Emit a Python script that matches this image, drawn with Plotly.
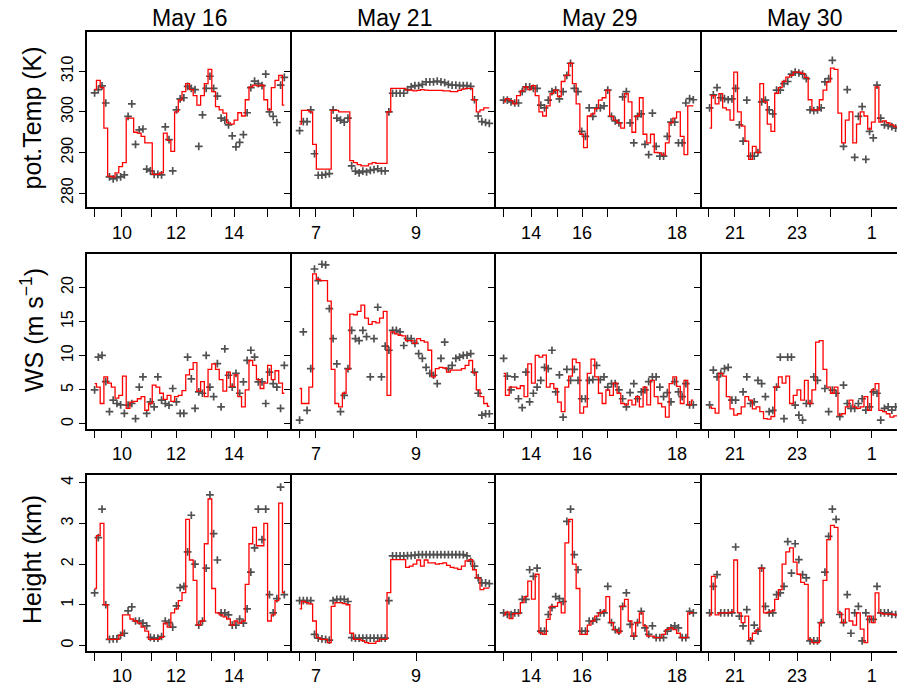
import plotly.graph_objects as go
from plotly.subplots import make_subplots

# ---------------- data ----------------
days = ["May 16", "May 21", "May 29", "May 30"]
variables = ["pot.Temp (K)", "WS (m s<sup>\u22121</sup>)", "Height (km)"]

# potential temperature (K): model (line) and observations (points)
temp_line_16 = [305.5, 307.8, 306, 296, 284.2, 284, 285, 286.5, 287.5, 298.5, 298.5, 295, 294.8, 294, 292.4, 292.4, 284.6, 284.6, 285, 294.8, 293, 290.3, 300, 302.9, 305, 307, 305.5, 304, 301.7, 304, 307, 310.5, 305, 301.3, 300.5, 299.7, 297.3, 297, 298, 299.8, 299, 303, 306.2, 306.6, 306.4, 306.6, 303, 300.5, 306, 307.8, 309, 301.7]
temp_obs_16 = [304.7, 305.5, 306.4, 302.2, 284.0, 283.5, 283.8, 284, 284.5, 298.9, 302, 292, 295.6, 295.8, 285.9, 285.5, 284.6, 284.6, 284.5, 296.3, 293.2, 285.5, 300.5, 303.2, 303.5, 306.3, 305.8, 305.5, 291.5, 299.3, 305.8, 308.8, 305.8, 303.9, 298.5, 298, 296.8, 294.1, 291.4, 292.5, 294.4, 299.8, 306, 307.6, 307, 306.5, 309.3, 300, 298.9, 297.4, 306.6, 308.5]
temp_line_21 = [297, 300.4, 300.4, 300, 292, 285.9, 285.9, 285.9, 285.9, 300.4, 300.4, 300, 300, 300, 288, 287.5, 287, 286.7, 286.7, 287.2, 287.5, 287.3, 287.3, 287.3, 300, 305.8, 305.8, 305.8, 305.8, 305.4, 305.4, 305.2, 305.3, 305.5, 305.4, 305.3, 305.3, 305.3, 305.3, 305.2, 305.2, 305, 305, 305.3, 305.6, 305.8, 305.8, 303, 300, 300.5, 301, 301]
temp_obs_21 = [295.4, 297.6, 297.6, 300.5, 289.7, 284.4, 284.4, 284.6, 284.8, 300.5, 298.5, 298, 297.5, 298.5, 286.7, 285.4, 285.0, 285.4, 285.2, 285.6, 285.8, 286.0, 285.5, 285.5, 300, 304.6, 304.6, 304.6, 304.6, 305.5, 306.2, 306.5, 306.5, 306.8, 307.4, 307.4, 307.4, 307.6, 307.4, 307.2, 306.8, 306.6, 306.6, 306.5, 306.5, 306.5, 306.3, 303, 299, 297.6, 297.4, 297.2]
temp_line_29 = [302.5, 303.3, 302.8, 302.0, 304.0, 305.2, 306.2, 305.5, 306.5, 304, 300, 299, 301.5, 304.5, 305.4, 303.8, 307.5, 309, 312, 307, 302, 294.5, 291.2, 299, 299.5, 300.8, 302.9, 303.5, 305.4, 298.9, 298, 297.3, 296, 304.5, 302.5, 295, 299, 303.5, 294.5, 292.4, 294.5, 290, 289.9, 289.4, 292.4, 297.3, 298.5, 300, 294, 289.5, 301.5, 301.5]
temp_obs_29 = [302.9, 302.9, 302.5, 302.2, 302.2, 305, 306.2, 306.2, 305.8, 305.8, 301.7, 301, 302.9, 305, 305.4, 303.2, 305, 309, 312, 305.8, 305, 295.2, 294, 301, 298.9, 301, 301, 301.5, 305.4, 298.9, 297.8, 297.3, 303.7, 305, 297.3, 292.4, 298.9, 299.5, 292, 289.5, 299.7, 291.5, 289.1, 289.1, 294, 297.5, 297.5, 292.4, 292.4, 302.2, 303.3, 303]
temp_line_30 = [296, 304, 302, 304.5, 301, 300.5, 298, 309.8, 300, 296.5, 292.8, 288.3, 291.5, 290, 307, 302.5, 297, 295.2, 304.6, 306, 307.5, 308.6, 309, 309.8, 309.8, 309.5, 308.5, 303, 300.5, 300.5, 303, 305.4, 307.4, 310.8, 310.5, 299.7, 292.4, 298, 300, 292.4, 297, 300, 299, 295.8, 297.5, 306.2, 297.5, 297.8, 297.3, 296.8, 296.4, 296]
temp_obs_30 = [301, 304.2, 306, 303.5, 303.3, 303, 303.2, 305.8, 296.8, 292.8, 302.9, 289.1, 289.1, 290, 302.5, 302.9, 300.5, 299.5, 305.4, 305.4, 307, 307.5, 309.3, 309.8, 309.6, 309.3, 308.2, 300.5, 300.3, 300.5, 301, 307.4, 308.2, 312.7, None, None, 291.5, 305.5, None, 288.8, 298.9, 301.3, 288.3, 295.2, 293.6, 306.6, 298.5, 296.8, 296.6, 296.4, 296, 296]

# wind speed (m/s)
ws_line_16 = [5.9, 5.4, 3.0, 6.9, 6.0, 5.4, 3.8, 4.2, 7.0, 2.3, 3.2, 3.3, 3.7, 4.0, 2.0, 3.0, 5.7, 5.4, 4.5, 3.6, 4.2, 3.3, 4.0, 4.2, 4.9, 7.2, 8.0, 9.0, 4.8, 6.2, 4.0, 8.0, 8.8, 8.0, 6.5, 4.8, 7.6, 5.5, 7.2, 4.0, 2.5, 5.0, 9.3, 8.6, 6.5, 5.2, 6.0, 8.6, 6.5, 7.8, 6.0, 4.5]
ws_obs_16 = [5.0, 9.8, 10.06, 6.2, 1.8, 3.5, 3.0, 2.8, 1.55, 2.77, 3.0, 0.8, 5.4, 6.9, 1.55, 3.25, 2.5, 6.9, 3.5, 3.0, 2.77, 5.2, 3.25, 1.55, 1.55, 9.8, 6.6, 2.3, 4.7, 4.5, 10.06, 5.4, 4.0, 8.84, 2.5, 11.0, 7.14, 5.4, 7.4, 4.5, 6.17, 9.33, 10.8, 9.8, 6.17, 6.17, 3.0, 7.6, 5.9, 5.4, 2.3, 8.6]
ws_line_21 = [5.2, 3.0, 3.0, 5.4, 22.0, 21.2, 21.0, 21.0, 18.0, 8.0, 3.0, 2.5, 4.5, 8.0, 16.1, 16.0, 16.5, 17.4, 15.5, 14.6, 15.0, 14.8, 15.5, 16.5, 4.2, 13.5, 13.2, 13.0, 12.9, 12.2, 12.2, 11.8, 12.5, 12.2, 12.0, 10.8, 6.9, 8.1, 8.3, 8.2, 7.6, 7.9, 7.9, 7.9, 8.1, 8.6, 9.3, 7.5, 5.0, 4.0, 3.0, 2.6]
ws_obs_21 = [0.58, 13.5, 2.0, 8.1, 22.7, 21.0, 23.4, 23.3, 16.9, 12.5, 8.8, 1.8, 4.2, 8.1, 13.7, 12.5, 12.2, 13.7, 12.8, 6.9, 12.5, 17.1, 6.9, 11.4, 10.8, 13.7, 13.7, 13.5, 11.5, 12.5, 12.5, 11.8, 10.3, 9.6, 8.3, 7.4, 7.14, 5.9, 9.6, 12.0, 8.1, 8.6, 9.6, 9.8, 10.06, 10.1, 10.3, 7.6, 4.5, 1.3, 1.5, 1.5]
ws_line_29 = [7.4, 4.2, 5.4, 5.4, 5.2, 5.6, 4.0, 8.8, 6.0, 10.06, 9.8, 10.1, 5.4, 5.9, 5.2, 3.2, 1.8, 5.4, 7.0, 9.5, 9.0, 1.6, 2.5, 7.4, 9.5, 6.9, 4.5, 3.0, 5.0, 4.2, 6.0, 4.5, 3.0, 2.8, 3.5, 2.8, 4.0, 2.5, 5.4, 2.8, 6.4, 4.0, 3.0, 2.5, 1.0, 5.9, 6.9, 5.5, 3.0, 6.4, 2.8, 3.5]
ws_obs_29 = [9.6, 7.0, 5.0, 6.9, 3.7, 2.4, 7.6, 3.25, 4.5, 5.4, 6.4, 8.3, 8.1, 10.8, 4.7, 7.2, 1.0, 8.0, 6.4, 8.0, 6.4, 3.7, 3.7, 6.4, 6.5, 8.6, 6.5, 6.9, 5.4, 5.9, 5.9, 5.0, 3.7, 2.5, 4.6, 5.9, 3.7, 4.7, 5.0, 6.2, 6.9, 6.9, 5.4, 4.0, 4.6, 3.25, 6.2, 4.7, 4.0, 5.9, 2.8, 2.8]
ws_line_30 = [2.5, 2.3, 1.6, 7.4, 7.0, 4.0, 2.2, 1.3, 1.5, 2.5, 4.0, 3.5, 2.2, 2.5, 1.8, 0.8, 0.7, 1.1, 5.4, 6.9, 6.0, 7.0, 3.0, 4.2, 5.0, 3.5, 6.4, 3.0, 5.0, 12.0, 12.2, 8.0, 5.4, 4.5, 5.4, 1.3, 1.5, 2.5, 3.5, 2.5, 2.3, 2.5, 4.0, 2.0, 5.0, 5.9, 2.0, 1.8, 1.5, 1.0, 1.2, 1.2]
ws_obs_30 = [2.8, 7.9, 6.9, 7.4, 8.1, 8.3, 3.5, 3.5, None, 4.7, 6.9, 3.0, 3.25, 6.4, 5.9, 4.0, 1.8, 2.0, 5.4, 9.8, 0.8, 9.8, 9.8, 2.77, 1.3, 0.58, 3.0, 3.0, 6.9, 6.4, None, 5.2, 1.8, 4.96, 4.5, 1.07, 5.7, 3.0, 2.3, 2.3, 3.0, 3.7, 2.04, 2.5, 4.7, 4.5, 0.58, 2.3, 2.5, 2.04, 2.5, 2.5]

# height (km)
ht_line_16 = [1.4, 2.7, 3.0, 1.0, 0.15, 0.15, 0.15, 0.25, 0.75, 0.75, 0.65, 0.6, 0.55, 0.45, 0.35, 0.15, 0.15, 0.15, 0.2, 0.55, 0.45, 0.8, 0.9, 1.1, 1.3, 3.1, 2.1, 1.6, 0.5, 0.6, 2.5, 3.6, 1.4, 0.8, 0.75, 0.7, 0.65, 0.5, 0.6, 0.55, 0.6, 1.5, 2.5, 2.9, 2.45, 2.45, 3.0, 0.6, 0.75, 1.1, 3.5, 1.3]
ht_obs_16 = [1.29, 2.65, 3.35, 1.0, 0.15, 0.16, 0.16, 0.25, 0.3, 0.85, 0.95, 0.6, 0.6, 0.55, 0.48, 0.2, 0.18, 0.18, 0.22, 0.6, 0.56, 0.45, 0.97, 1.42, 1.45, 2.3, 3.2, 2.0, 0.5, 0.6, 1.9, 3.7, 2.75, 2.1, 0.8, 0.8, 0.75, 0.5, 0.5, 0.65, 0.55, 0.9, 1.8, 2.4, 3.35, 2.6, 3.35, 1.25, 0.8, 1.15, 3.89, 1.25]
ht_line_21 = [0.9, 1.08, 1.05, 1.02, 0.6, 0.19, 0.15, 0.15, 0.07, 0.96, 1.05, 1.05, 1.03, 1.0, 0.3, 0.15, 0.15, 0.12, 0.07, 0.05, 0.05, 0.1, 0.15, 0.15, 1.3, 2.11, 2.11, 2.11, 2.11, 1.92, 1.95, 2.0, 2.1, 1.95, 2.1, 2.03, 2.03, 2.0, 2.01, 2.03, 1.97, 1.92, 1.9, 1.87, 1.95, 2.08, 2.11, 1.86, 1.66, 1.37, 1.41, 1.41]
ht_obs_21 = [1.1, 1.1, 1.1, 1.1, 0.27, 0.18, 0.16, 0.15, 0.13, 1.1, 1.13, 1.13, 1.13, 1.08, 0.19, 0.18, 0.18, 0.18, 0.18, 0.18, 0.18, 0.18, 0.18, 0.18, 1.1, 2.2, 2.2, 2.2, 2.2, 2.21, 2.21, 2.22, 2.23, 2.23, 2.23, 2.23, 2.23, 2.23, 2.23, 2.23, 2.23, 2.23, 2.23, 2.23, 2.23, 2.2, 2.07, 1.95, 1.66, 1.54, 1.54, 1.52]
ht_line_29 = [0.75, 0.82, 0.66, 0.78, 0.78, 1.05, 1.2, 1.58, 1.14, 1.75, 0.31, 0.27, 0.64, 0.96, 0.96, 1.05, 0.8, 2.52, 3.1, 2.0, 1.4, 0.27, 0.27, 0.5, 0.6, 0.72, 0.8, 0.84, 1.2, 0.56, 0.39, 0.31, 0.96, 1.13, 0.6, 0.23, 0.56, 0.8, 0.48, 0.23, 0.23, 0.19, 0.19, 0.27, 0.39, 0.43, 0.39, 0.3, 0.19, 0.19, 0.8, 0.8]
ht_obs_29 = [0.8, 0.76, 0.76, 0.8, 0.8, 1.13, 1.13, 1.86, 1.7, 1.9, 0.35, 0.35, 0.76, 0.93, 1.2, 1.15, 1.08, 3.05, 3.35, 2.23, 1.86, 0.35, 0.35, 0.6, 0.6, 0.64, 0.8, 0.8, 1.45, 0.56, 0.39, 0.35, 0.96, 1.29, 0.52, 0.23, 0.56, 0.84, 0.43, 0.27, 0.48, 0.19, 0.19, 0.19, 0.35, 0.43, 0.48, 0.43, 0.19, 0.19, 0.84, 0.8]
ht_line_30 = [0.75, 1.7, 0.75, 0.8, 0.8, 0.8, 0.82, 2.1, 0.8, 0.56, 0.72, 0.15, 0.3, 0.39, 1.9, 0.8, 0.82, 0.85, 1.13, 1.37, 2.0, 2.3, 2.4, 2.05, 1.75, 1.55, 1.5, 0.15, 0.07, 0.07, 0.56, 1.6, 2.6, 2.95, 2.9, 0.8, 0.56, 0.9, 0.6, 0.5, 0.8, 0.4, 0.07, 0.72, 0.56, 1.29, 0.8, 0.77, 0.77, 0.77, 0.75, 0.75]
ht_obs_30 = [0.8, 1.45, 1.74, 0.8, 0.8, 0.8, 0.8, 2.42, 0.72, 0.48, 0.88, 0.11, 0.5, 0.35, 1.9, 0.96, 0.8, 0.8, 1.25, 1.29, 1.45, 2.55, 1.78, 2.5, 2.11, 1.74, 1.66, 0.11, 0.11, 0.11, 0.56, 1.8, 2.68, 3.35, 3.1, 0.76, 0.56, 1.25, 0.3, 0.8, 0.96, 0.11, 0.8, 0.64, 0.64, 1.45, 0.8, 0.8, 0.8, 0.76, 0.76, 0.76]

# hour marks along each flight (sample index) and their labels
hour_pos_16 = [-0.16, 7.36, 15.2, 21.9, 31.3, 37.5, 46.6]
hour_lab_16 = ["", "10", "", "12", "", "14", ""]
hour_pos_21 = [-0.16, 4.4, 14.6, 31.3]
hour_lab_21 = ["", "7", "", "9"]
hour_pos_29 = [0.1, 7.4, 14.4, 21.1, 27.8, 46.6]
hour_lab_29 = ["", "14", "", "16", "", "18"]
hour_pos_30 = [-0.4, 6.8, 16.0, 23.5, 32.6, 43.6]
hour_lab_30 = ["", "21", "", "23", "", "1"]

y_ticks_temp = [280, 290, 300, 310]
y_ticks_ws = [0, 5, 10, 15, 20]
y_ticks_ht = [0, 1, 2, 3, 4]

# ---------------- layout geometry ----------------
W, H = 897, 686
LM, TM, BM = 87, 32, 35
PW = W - LM
PH = H - TM - BM
col_edges = [(87, 292), (292, 496), (496, 702), (702, 907)]
row_edges = [(32, 207.3), (254, 428.7), (475, 651)]
STEP = 3.72
PAD = 7.6
y_ranges = [[276.5, 319.7], [-0.69, 24.9], [-0.137, 4.19]]

def fx(px):
    return (px - LM) / PW

def fy(py):
    return (H - BM - py) / PH

lines = [[temp_line_16, temp_line_21, temp_line_29, temp_line_30],
         [ws_line_16, ws_line_21, ws_line_29, ws_line_30],
         [ht_line_16, ht_line_21, ht_line_29, ht_line_30]]
obs = [[temp_obs_16, temp_obs_21, temp_obs_29, temp_obs_30],
       [ws_obs_16, ws_obs_21, ws_obs_29, ws_obs_30],
       [ht_obs_16, ht_obs_21, ht_obs_29, ht_obs_30]]
hour_pos = [hour_pos_16, hour_pos_21, hour_pos_29, hour_pos_30]
hour_lab = [hour_lab_16, hour_lab_21, hour_lab_29, hour_lab_30]
y_ticks = [y_ticks_temp, y_ticks_ws, y_ticks_ht]

FONT = "Liberation Sans, Arial, sans-serif"
fig = make_subplots(rows=3, cols=4)

for r in range(3):
    for c in range(4):
        yv = obs[r][c]
        yl = lines[r][c]
        xo = list(range(len(yv)))
        xl = list(range(len(yl)))
        fig.add_trace(go.Scatter(x=xo, y=yv, mode="markers",
                                 marker=dict(symbol="cross-thin", size=5.5,
                                             line=dict(width=1.7, color="#505050")),
                                 showlegend=False), row=r + 1, col=c + 1)
        fig.add_trace(go.Scatter(x=xl, y=yl, mode="lines", line_shape="hvh",
                                 line=dict(color="#ff0000", width=1.3),
                                 showlegend=False), row=r + 1, col=c + 1)
        k = r * 4 + c + 1
        xa = "xaxis" if k == 1 else f"xaxis{k}"
        ya = "yaxis" if k == 1 else f"yaxis{k}"
        left, right = col_edges[c]
        vis_right = min(right, W)
        top, bot = row_edges[r]
        fig.layout[xa].update(
            domain=[fx(left), fx(vis_right)],
            range=[-PAD / STEP, (vis_right - left - PAD) / STEP],
            showline=True, mirror=True, linecolor="black", linewidth=1.5,
            showgrid=False, zeroline=False,
            ticks="outside", ticklen=8, tickwidth=1.3, tickcolor="black",
            tickmode="array", tickvals=hour_pos[c], ticktext=hour_lab[c],
            tickfont=dict(family=FONT, size=18, color="black"),
        )
        fig.layout[ya].update(
            domain=[max(fy(bot), 0), min(fy(top), 1)],
            range=y_ranges[r],
            showline=True, mirror=False, linecolor="black", linewidth=1.5,
            showgrid=False, zeroline=False,
            ticks="outside", ticklen=6, tickwidth=1.3, tickcolor="black",
            tickmode="array", tickvals=y_ticks[r],
            showticklabels=(c == 0), tickangle=-90,
            tickfont=dict(family=FONT, size=16, color="black"),
        )

annotations = []
for c, d in enumerate(days):
    left, right = col_edges[c]
    annotations.append(dict(text=d, x=fx((left + right) / 2), y=fy(18),
                            xref="paper", yref="paper", showarrow=False,
                            xanchor="center", yanchor="middle",
                            font=dict(family=FONT, size=23, color="black")))
title_y = [118.5, 330, 560]
for r, v in enumerate(variables):
    annotations.append(dict(text=v, x=fx(32), y=fy(title_y[r]),
                            xref="paper", yref="paper", showarrow=False,
                            xanchor="center", yanchor="middle", textangle=-90,
                            font=dict(family=FONT, size=25, color="black")))

fig.update_layout(width=W, height=H, margin=dict(l=LM, r=0, t=TM, b=BM),
                  paper_bgcolor="white", plot_bgcolor="white",
                  annotations=annotations, showlegend=False)
fig.write_html("out.html", config={"displayModeBar": False},
               post_script="document.body.style.margin='0px';document.body.style.overflow='hidden';")
